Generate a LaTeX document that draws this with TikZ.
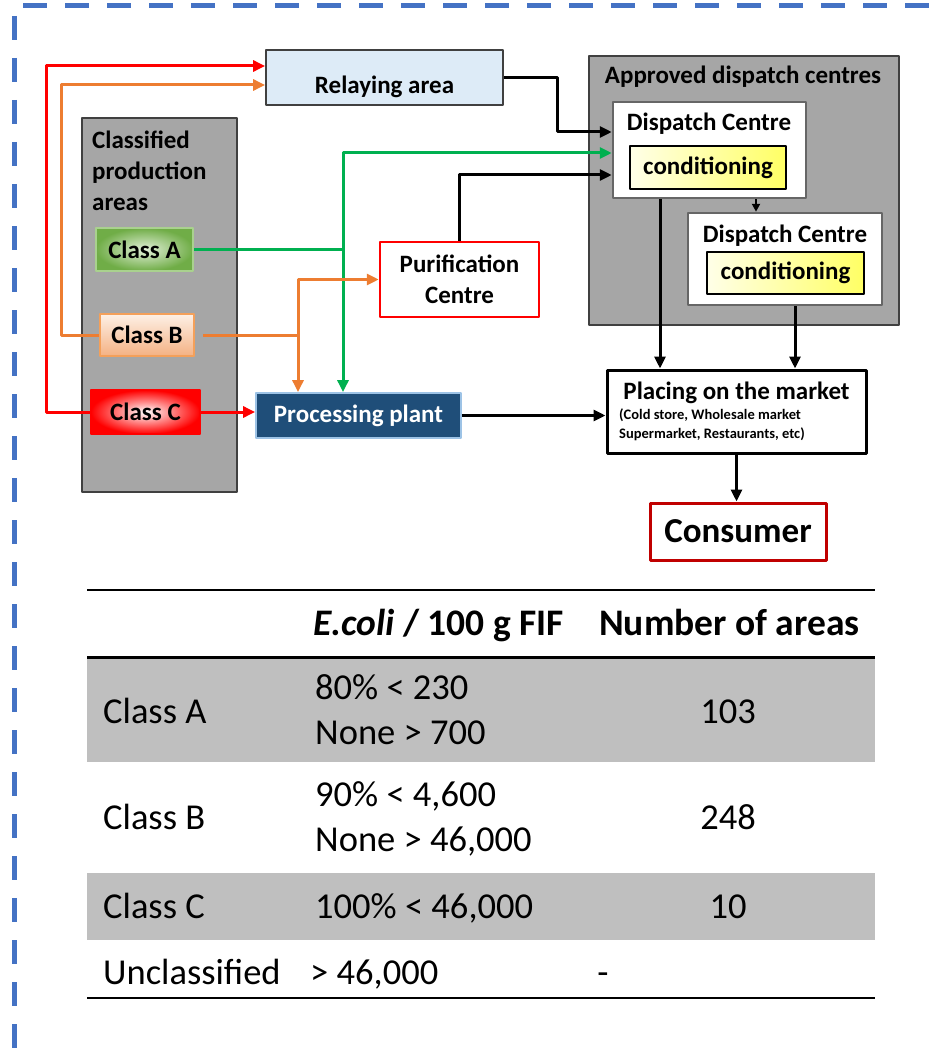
\documentclass[tikz,border=0pt]{standalone}
\usepackage{fontspec}
\setmainfont{Carlito}
\usetikzlibrary{arrows.meta}
\definecolor{frameblue}{RGB}{68,114,196}
\definecolor{areagray}{RGB}{166,166,166}
\definecolor{edgegray}{RGB}{64,64,64}
\definecolor{relayblue}{RGB}{221,235,247}
\definecolor{plantblue}{RGB}{31,78,121}
\definecolor{plantedge}{RGB}{157,195,230}
\definecolor{lnred}{RGB}{255,0,0}
\definecolor{lnorange}{RGB}{237,125,49}
\definecolor{lngreen}{RGB}{0,176,80}
\definecolor{darkred}{RGB}{192,0,0}
\definecolor{rowgray}{RGB}{191,191,191}
\tikzset{
	box/.style={draw=edgegray, line width=1.8pt, inner sep=0pt, align=center},
	lnk/.style={line width=3pt},
	cls/.style={inner sep=0pt, line width=2pt, minimum height=43pt},
	condbox/.style={draw=black, line width=2pt, inner sep=0pt, minimum height=42pt,
		left color={rgb,255:red,255;green,255;blue,232}, right color={rgb,255:red,255;green,255;blue,100}},
	cell/.style={font=\fontsize{36.5}{43}\selectfont, anchor=base west, inner sep=0pt},
	hcell/.style={cell, font=\bfseries\fontsize{37.5}{43}\selectfont},
}
\begin{document}
\begin{tikzpicture}[x=1pt, y=-1pt, >={Triangle[length=12pt,width=11pt]}, line join=round,
	font=\bfseries\fontsize{25}{31}\selectfont]
	\useasboundingbox (0,0) rectangle (930,1051);
	% dashed frame
	\draw[frameblue, line width=5pt, dash pattern=on 24pt off 18pt] (23,6) -- (945,6);
	\draw[frameblue, line width=5pt, dash pattern=on 24pt off 18pt] (14.7,16) -- (14.7,1070);
	% production areas
	\node[box, fill=areagray, minimum width=155pt, minimum height=374pt] (cpa) at (159.5,305) {};
	\node[anchor=north west, align=left, inner sep=0pt] (cpat) at (92,131) {Classified\\production\\areas};
	\node[cls, minimum width=97pt, draw={rgb,255:red,169;green,209;blue,142},
		inner color={rgb,255:red,226;green,240;blue,217}, outer color={rgb,255:red,112;green,173;blue,71}] (clsA) at (144.5,249.5) {Class A};
	\node[cls, minimum width=94pt, minimum height=42pt, draw={rgb,255:red,244;green,160;blue,90},
		top color={rgb,255:red,253;green,240;blue,230}, bottom color={rgb,255:red,244;green,177;blue,131}] (clsB) at (147,335) {Class B};
	\node[cls, minimum width=109pt, minimum height=44pt, draw=lnred,
		inner color=white, outer color=lnred] (clsC) at (145.5,412) {Class C};
	% other boxes
	\node[box, fill=relayblue, minimum width=237pt, minimum height=55pt] (relay) at (384.5,77.5) {\raisebox{-16pt}[0pt][0pt]{Relaying area}};
	\node[box, draw=lnred, line width=2.5pt, fill=white, minimum width=159pt, minimum height=75pt] (puri) at (459.5,279.5) {Purification\\Centre};
	\node[box, draw=plantedge, fill=plantblue, text=white, minimum width=205pt, minimum height=45pt] (proc) at (358.5,415.5) {Processing plant};
	% dispatch centres
	\node[box, fill=areagray, minimum width=310pt, minimum height=269pt] (adc) at (744,190.5) {};
	\node[inner sep=0pt] (adct) at (743,77) {Approved dispatch centres};
	\node[box, draw=gray!80!black, line width=2.5pt, fill=white, minimum width=193pt, minimum height=96pt] (dc1) at (709.5,150) {};
	\node[inner sep=0pt] (dc1t) at (709,124) {Dispatch Centre};
	\node[condbox, minimum width=156pt, minimum height=43pt] (cond1) at (708,167.5) {conditioning};
	\node[box, draw=gray!80!black, line width=2.5pt, fill=white, minimum width=194pt, minimum height=92pt] (dc2) at (785,259) {};
	\node[inner sep=0pt] (dc2t) at (785,236) {Dispatch Centre};
	\node[condbox, minimum width=157pt] (cond2) at (785.5,273) {conditioning};
	% market and consumer
	\node[box, draw=black, line width=3pt, fill=white, minimum width=259pt, minimum height=83pt] (mkt) at (736.5,411.5) {};
	\node[inner sep=0pt] (mktt) at (736.5,393) {Placing on the market};
	\node[anchor=north west, align=left, inner sep=0pt, font=\bfseries\fontsize{14.5}{19}\selectfont] (mkts) at (619,409)
		{(Cold store, Wholesale market\\Supermarket, Restaurants, etc)};
	\node[box, draw=darkred, line width=3pt, fill=white, minimum width=176pt, minimum height=57pt,
		font=\bfseries\fontsize{35}{40}\selectfont] (cons) at (738,531.5) {Consumer};
	% connectors
	\coordinate (gA) at (343,249.5);
	\coordinate (oB) at (298,335);
	\draw[lnk, lnred, ->] (clsC.west) -- ++(-44,0) |- ([yshift=11.5pt]relay.west);
	\draw[lnk, lnorange, ->] (clsB.west) -- ++(-38,0) |- ([yshift=-7.5pt]relay.west);
	\draw[lnk, lngreen] (clsA.east) -- (gA);
	\draw[lnk, lngreen, ->] (gA) |- ([yshift=-3pt]dc1.west);
	\draw[lnk, lngreen, ->] (gA) -- (gA |- proc.north);
	\draw[lnk, lnorange] ([xshift=8pt]clsB.east) -- (oB);
	\draw[lnk, lnorange, ->] (oB) |- (puri.west);
	\draw[lnk, lnorange, ->] (oB) -- (oB |- proc.north);
	\draw[lnk, lnred, ->] (clsC.east) -- (clsC.east -| proc.west);
	\draw[lnk, ->] (relay.east) -- ++(54,0) |- ([yshift=18pt]dc1.west);
	\draw[lnk, ->] (puri.north) |- ([yshift=-25pt]dc1.west);
	\draw[line width=2pt, -{Triangle[length=8pt,width=8pt]}] ([xshift=46.5pt]dc1.south) -- ([xshift=-29pt]dc2.north);
	\draw[lnk, ->] ([xshift=-49.5pt]dc1.south) -- ([xshift=-76.5pt]mkt.north);
	\draw[lnk, ->] ([xshift=10pt]dc2.south) -- ([xshift=58.5pt]mkt.north);
	\draw[lnk, ->] (proc.east) -- (proc.east -| mkt.west);
	\draw[lnk, ->] (mkt.south) -- (mkt.south |- cons.north);
	% table
	\fill[rowgray] (87,657) rectangle (875,762);
	\fill[rowgray] (87,873) rectangle (875,940);
	\draw[line width=2.5pt] (87,590) -- (875,590);
	\draw[line width=3pt] (87,657) -- (875,657);
	\draw[line width=2.5pt] (87,998) -- (875,998);
	\node[hcell] (h2) at (313,635) {\textit{E.coli} / 100 g FIF};
	\node[hcell] (h3) at (599,635) {Number of areas};
	\node[cell] (a1) at (103,723) {Class A};
	\node[cell] (a2) at (315,699) {80\% < 230};
	\node[cell] (a2b) at (315,744) {None > 700};
	\node[cell, anchor=base] (a3) at (728,723) {103};
	\node[cell] (b1) at (103,829) {Class B};
	\node[cell] (b2) at (315,806) {90\% < 4,600};
	\node[cell] (b2b) at (315,851) {None > 46,000};
	\node[cell, anchor=base] (b3) at (728,829) {248};
	\node[cell] (c1) at (103,918) {Class C};
	\node[cell] (c2) at (315,918) {100\% < 46,000};
	\node[cell, anchor=base] (c3) at (728,918) {10};
	\node[cell] (u1) at (103,984) {Unclassified};
	\node[cell] (u2) at (310,984) {> 46,000};
	\node[cell, anchor=base] (u3) at (603,984) {-};
\end{tikzpicture}
\end{document}
